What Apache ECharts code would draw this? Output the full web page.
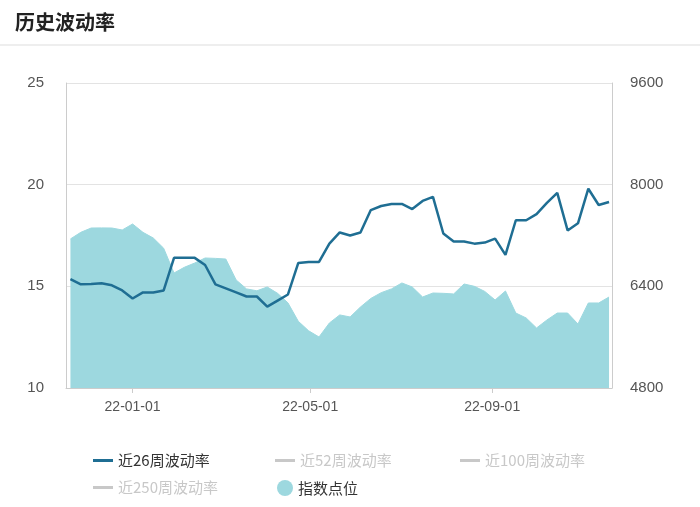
<!DOCTYPE html>
<html><head><meta charset="utf-8">
<script src="https://cdn.jsdelivr.net/npm/echarts@6/dist/echarts.min.js"></script>
<style>html,body{margin:0;padding:0;background:#fff}#c{width:700px;height:507px}</style>
</head><body><div id="c"></div>
<script>
const startDate = '2021-11-20';
const vol26 = [15.36,15.1,15.12,15.15,15.05,14.8,14.4,14.7,14.7,14.8,16.4,16.4,16.4,16.05,15.1,14.9,14.7,14.5,14.5,14.0,14.3,14.6,16.15,16.2,16.2,17.1,17.65,17.5,17.65,18.75,18.95,19.05,19.05,18.8,19.2,19.4,17.6,17.2,17.2,17.1,17.15,17.35,16.55,18.25,18.25,18.55,19.1,19.6,17.75,18.1,19.8,19.0,19.15];
const indexPts = [7146,7250,7318,7320,7318,7287,7381,7250,7160,7000,6610,6700,6767,6846,6840,6830,6500,6360,6330,6390,6290,6140,5850,5700,5603,5823,5950,5918,6075,6210,6300,6360,6453,6390,6232,6295,6290,6280,6437,6400,6320,6185,6327,5980,5902,5745,5870,5980,5980,5807,6138,6138,6232];
const xTickDays = [0,120,243]; // days from 2022-01-01
const names = ['近26周波动率','近52周波动率','近100周波动率','近250周波动率','指数点位'];

const base = Date.UTC(2022,0,1);
const startDay = (Date.parse(startDate+'T00:00:00Z')-base)/86400000;
const days = vol26.map((_,i)=>startDay+7*i);
const fmt = d => { const t=new Date(base+d*86400000); const p=n=>String(n).padStart(2,'0'); return p(t.getUTCFullYear()%100)+'-'+p(t.getUTCMonth()+1)+'-'+p(t.getUTCDate()); };

const chart = echarts.init(document.getElementById('c'));
const lineColor = '#1f6e93', areaColor = '#9dd8df';
const legendPos = [[88,448],[270,448],[455,448],[88,475],[272,475]];
chart.setOption({
  animation:false,
  title:{text:'历史波动率',left:10,top:7,textStyle:{fontSize:20,fontWeight:'bold',color:'#222',fontFamily:'Noto Sans CJK SC'}},
  graphic:[{type:'line',shape:{x1:0,y1:45,x2:700,y2:45},style:{stroke:'#ddd',lineWidth:1}}],
  legend: names.map((n,i)=>({data:[{name:n,icon:i===4?'circle':'rect'}],left:legendPos[i][0],top:legendPos[i][1],
    itemWidth:i===4?16:20,itemHeight:i===4?16:3,
    selected:{[n]:!(i>=1&&i<=3)},inactiveColor:'#c8c8c8',
    textStyle:{fontSize:15,color:'#333',fontFamily:'Noto Sans CJK SC'}})),
  grid:{left:66,right:88,top:83,bottom:119},
  xAxis:{type:'value',min:days[0]-3,max:days[days.length-1]+2,
    axisLine:{show:true,onZero:false,lineStyle:{color:'#ccc'}},axisTick:{show:true,customValues:xTickDays,lineStyle:{color:'#ccc'}},
    axisLabel:{customValues:xTickDays,formatter:v=>fmt(v),color:'#555',fontSize:14,margin:12},
    splitLine:{show:false}},
  yAxis:[{type:'value',min:10,max:25,interval:5,position:'left',
      axisLine:{show:true,onZero:false,lineStyle:{color:'#ccc'}},axisTick:{show:false},
      axisLabel:{color:'#555',fontSize:15,margin:22},splitLine:{lineStyle:{color:'#e3e3e3'}}},
    {type:'value',min:4800,max:9600,interval:1600,position:'right',
      axisLine:{show:true,onZero:false,lineStyle:{color:'#ccc'}},axisTick:{show:false},
      axisLabel:{color:'#555',fontSize:15,margin:18,formatter:v=>String(v)},splitLine:{show:false}}],
  series:[
    {name:names[4],type:'line',yAxisIndex:1,data:days.map((d,i)=>[d,indexPts[i]]),symbol:'none',
      lineStyle:{width:1,color:areaColor},areaStyle:{color:areaColor,opacity:1},itemStyle:{color:areaColor},z:1},
    {name:names[0],type:'line',data:days.map((d,i)=>[d,vol26[i]]),symbol:'none',
      lineStyle:{width:2.5,color:lineColor},itemStyle:{color:lineColor},z:3},
    {name:names[1],type:'line',data:[],symbol:'none',itemStyle:{color:'#5aa'}},
    {name:names[2],type:'line',data:[],symbol:'none',itemStyle:{color:'#a5a'}},
    {name:names[3],type:'line',data:[],symbol:'none',itemStyle:{color:'#aa5'}}
  ]
});
</script></body></html>
